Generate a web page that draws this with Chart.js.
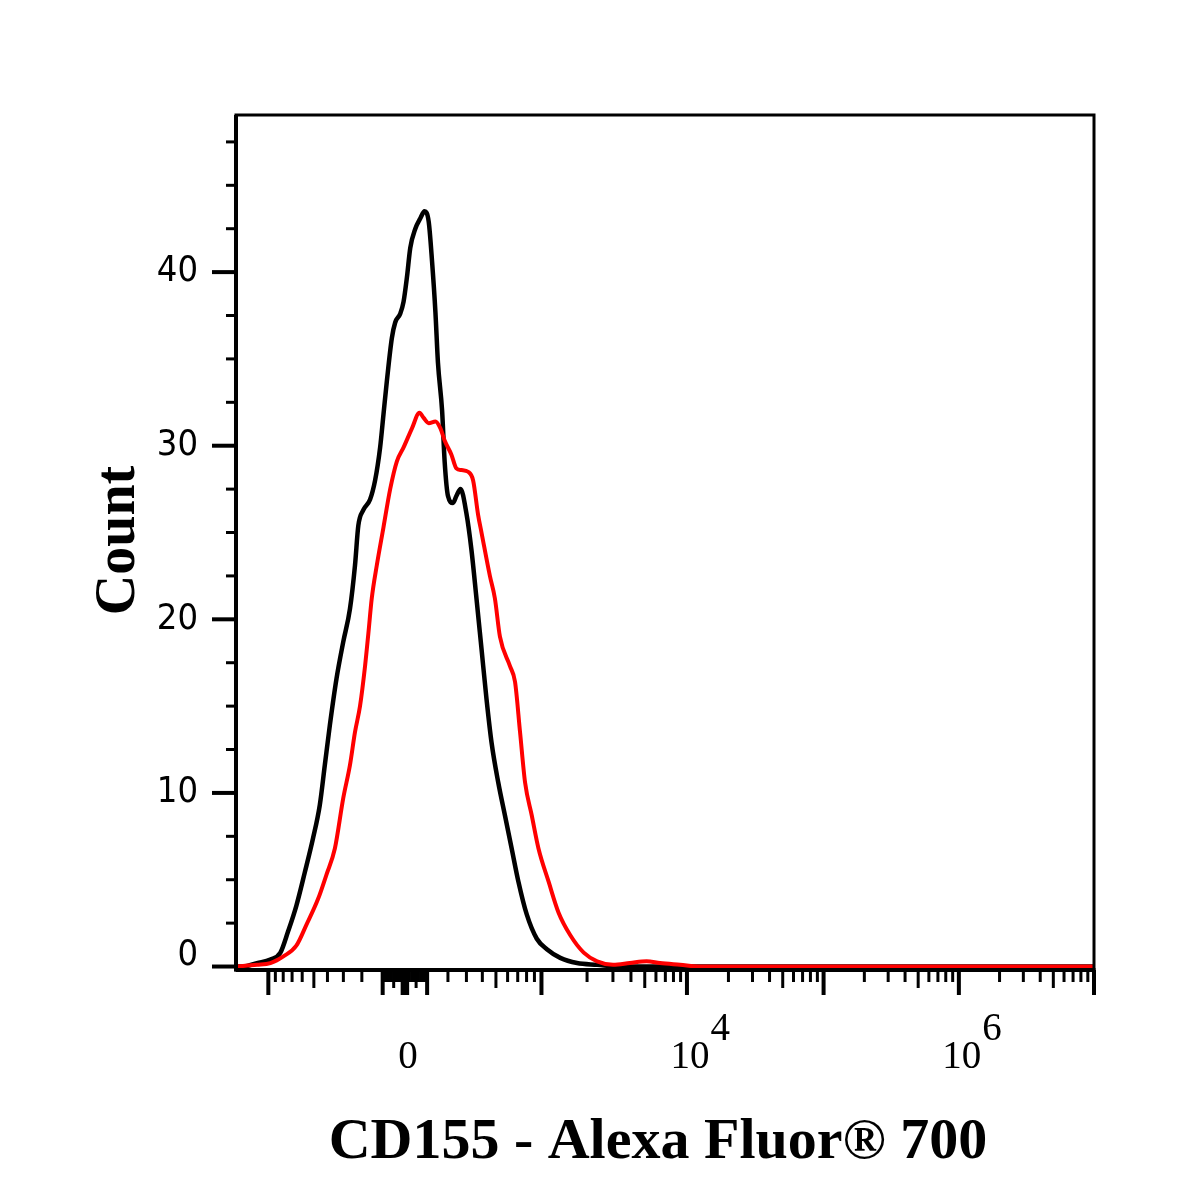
<!DOCTYPE html>
<html>
<head>
<meta charset="utf-8">
<script src="https://cdn.jsdelivr.net/npm/chart.js@4.4.1/dist/chart.umd.min.js"></script>
<style>
  html, body { margin: 0; padding: 0; background: #fff; }
  #wrap { width: 1200px; height: 1200px; }
</style>
</head>
<body>
<div id="wrap"><canvas id="histChart" width="1200" height="1200"></canvas></div>
<script>
// histogram: display channel (0-1024) -> event count
const isotypeChannel = [0, 9, 25, 41, 53, 62, 72, 82, 92, 100, 106, 112, 120, 128, 136, 142, 146, 152, 160, 166,
  172, 176, 180, 186, 190, 196, 200, 204, 208, 214, 220, 225, 230, 234, 238, 241, 246, 249, 253, 259,
  263, 268, 275, 281, 287, 293, 299, 305, 313, 321, 329, 337, 347, 359, 371, 387, 407, 431, 458, 1024];
const isotypeCount = [0, 0, 0.2, 0.4, 0.8, 2.0, 3.5, 5.4, 7.4, 9.3, 11.6, 13.9, 16.6, 18.7, 20.6, 23.1, 25.4, 26.3, 26.9, 28.0,
  29.9, 31.8, 33.7, 36.2, 37.1, 37.6, 38.3, 39.7, 41.4, 42.5, 43.1, 43.5, 42.9, 40.6, 37.7, 34.8, 32.0, 29.1, 27.1, 26.7,
  27.1, 27.5, 26.1, 24.0, 21.2, 18.3, 15.4, 12.9, 10.6, 8.7, 6.8, 4.9, 3.0, 1.6, 1.0, 0.5, 0.2, 0.1, 0, 0];

const cd155Channel = [0, 25, 41, 57, 72, 84, 98, 108, 118, 128, 136, 142, 148, 154, 158, 162, 168, 176, 184, 192,
  200, 210, 219, 224, 230, 238, 244, 249, 257, 263, 269, 277, 283, 289, 293, 303, 309, 315, 327, 333,
  339, 345, 353, 361, 373, 385, 399, 415, 431, 450, 470, 490, 506, 530, 554, 1024];
const cd155Count = [0, 0.1, 0.2, 0.6, 1.2, 2.4, 3.9, 5.3, 6.8, 9.7, 11.6, 13.5, 15.0, 17.3, 19.2, 21.2, 23.1, 25.3, 27.5, 29.1,
  29.9, 31.0, 31.9, 31.6, 31.3, 31.4, 31.0, 30.3, 29.5, 28.7, 28.6, 28.5, 28.0, 26.0, 25.0, 22.5, 21.2, 19.0, 17.3, 16.4,
  13.5, 10.6, 8.7, 6.8, 4.9, 3.1, 1.8, 0.8, 0.3, 0.1, 0.2, 0.3, 0.2, 0.1, 0, 0];

const yTickValues = [0, 10, 20, 30, 40];
const yMinorStep = 2.5;
const xLabelValues = [0, 1e4, 1e6];
const xAxisTitle = 'CD155 - Alexa Fluor\u00AE 700';
const yAxisTitle = 'Count';

// logicle (biexponential) display used by the cytometer software
const LOGICLE = { T: 1e7, W: 0.5, M: 5.6, A: 0.75 };
const CHANNELS = 1024;

function makeLogicle({ T, W, M, A }) {
  const w = W / (M + A), x2 = A / (M + A), x1 = x2 + w, x0 = x2 + 2 * w;
  const b = (M + A) * Math.LN10;
  let lo = 1e-9, hi = b;
  for (let i = 0; i < 200; i++) {
    const mid = (lo + hi) / 2;
    const g = 2 * (Math.log(mid) - Math.log(b)) + w * (b + mid);
    if (g > 0) hi = mid; else lo = mid;
  }
  const d = (lo + hi) / 2;
  const ca = Math.exp(x0 * (b + d));
  const mfa = Math.exp(b * x1) - ca / Math.exp(d * x1);
  const a = T / (Math.exp(b) - mfa - ca / Math.exp(d));
  const p = { a, b, c: ca * a, d, f: -mfa * a, x1 };

  function value(x) {
    if (x < p.x1) return -value(2 * p.x1 - x);
    return p.a * Math.exp(p.b * x) - p.c * Math.exp(-p.d * x) + p.f;
  }
  // value -> display position in [0, 1]
  function display(v) {
    let l = -1, h = 2;
    for (let i = 0; i < 80; i++) {
      const m = (l + h) / 2;
      if (value(m) < v) l = m; else h = m;
    }
    return (l + h) / 2;
  }
  return { value, display };
}

const logicle = makeLogicle(LOGICLE);

// decade ticks: 1 = major, 5 = medium, others minor
function buildXTicks() {
  const ticks = [{ value: 0, len: 25, width: 4 }];
  for (let n = 1; n <= 7; n++) {
    for (let m = 1; m <= 9; m++) {
      const v = m * Math.pow(10, n);
      const t = m === 1 ? { len: 25, width: 4 } : m === 5 ? { len: 18, width: 3 } : { len: 12, width: 3 };
      ticks.push({ value: v, ...t }, { value: -v, ...t });
    }
  }
  return ticks.map(t => ({ ...t, ch: CHANNELS * logicle.display(t.value) }))
    .filter(t => t.ch >= -0.5 && t.ch <= CHANNELS + 0.5);
}

const flowAxes = {
  id: 'flowAxes',
  afterDatasetsDraw(chart) {
    const { ctx, chartArea: a, scales: { x, y } } = chart;
    ctx.save();
    ctx.strokeStyle = '#000';
    ctx.fillStyle = '#000';
    ctx.lineCap = 'butt';

    // frame
    ctx.lineWidth = 3;
    ctx.strokeRect(a.left, a.top, a.right - a.left, a.bottom - a.top);
    ctx.lineWidth = 4;
    ctx.beginPath(); ctx.moveTo(a.left, a.top); ctx.lineTo(a.left, a.bottom + 1.5); ctx.stroke();
    ctx.beginPath(); ctx.moveTo(a.left, a.bottom); ctx.lineTo(a.right + 1.5, a.bottom); ctx.stroke();

    // y ticks
    for (let v = 0; v <= y.max; v += yMinorStep) {
      const py = y.getPixelForValue(v);
      const major = yTickValues.includes(v);
      ctx.lineWidth = major ? 4 : 3;
      ctx.beginPath();
      ctx.moveTo(a.left - (major ? 24 : 10), py);
      ctx.lineTo(a.left, py);
      ctx.stroke();
    }
    ctx.font = '36px "DejaVu Sans Condensed", "DejaVu Sans", sans-serif';
    ctx.textAlign = 'right';
    ctx.textBaseline = 'middle';
    yTickValues.forEach(v => {
      const py = Math.min(y.getPixelForValue(v), a.bottom - 14);
      ctx.fillText(String(v), a.left - 38, py);
    });

    // x ticks
    buildXTicks().forEach(t => {
      const px = x.getPixelForValue(t.ch);
      ctx.lineWidth = t.width;
      ctx.beginPath();
      ctx.moveTo(px, a.bottom);
      ctx.lineTo(px, a.bottom + t.len);
      ctx.stroke();
    });
    ctx.font = '39px "Liberation Serif", "Times New Roman", serif';
    ctx.textBaseline = 'alphabetic';
    xLabelValues.forEach(v => {
      const px = x.getPixelForValue(CHANNELS * logicle.display(v)) + 3;
      if (v === 0) {
        ctx.textAlign = 'center';
        ctx.fillText('0', px, 1068);
        return;
      }
      const exp = String(Math.round(Math.log10(v)));
      const bw = ctx.measureText('10').width;
      ctx.textAlign = 'center';
      ctx.fillText('10', px, 1068);
      ctx.textAlign = 'left';
      ctx.fillText(exp, px + bw / 2 + 1, 1040);
    });

    // axis titles
    ctx.font = 'bold 58px "Liberation Serif", "Times New Roman", serif';
    ctx.textAlign = 'center';
    ctx.fillText(xAxisTitle, 658, 1158);
    ctx.save();
    ctx.translate(134, (a.top + a.bottom) / 2 - 2);
    ctx.rotate(-Math.PI / 2);
    ctx.font = 'bold 56px "Liberation Serif", "Times New Roman", serif';
    ctx.fillText(yAxisTitle, 0, 0);
    ctx.restore();

    ctx.restore();
  }
};

const toPoints = (xs, ys) => xs.map((c, i) => ({ x: c, y: ys[i] }));

new Chart(document.getElementById('histChart'), {
  type: 'line',
  data: {
    datasets: [
      {
        label: 'CD155',
        data: toPoints(cd155Channel, cd155Count),
        borderColor: '#ff0000',
        borderWidth: 4,
        pointRadius: 0,
        cubicInterpolationMode: 'monotone',
        borderJoinStyle: 'round',
        fill: false
      },
      {
        label: 'Isotype',
        data: toPoints(isotypeChannel, isotypeCount),
        borderColor: '#000000',
        borderWidth: 4.5,
        pointRadius: 0,
        cubicInterpolationMode: 'monotone',
        borderJoinStyle: 'round',
        fill: false
      }
    ]
  },
  options: {
    responsive: false,
    animation: false,
    devicePixelRatio: 1,
    layout: { padding: { left: 236, right: 106, top: 115, bottom: 230 } },
    plugins: { legend: { display: false }, tooltip: { enabled: false } },
    scales: {
      x: { type: 'linear', min: 0, max: CHANNELS, display: false },
      y: { type: 'linear', min: -0.2, max: 49.05, display: false }
    }
  },
  plugins: [flowAxes]
});
</script>
</body>
</html>
